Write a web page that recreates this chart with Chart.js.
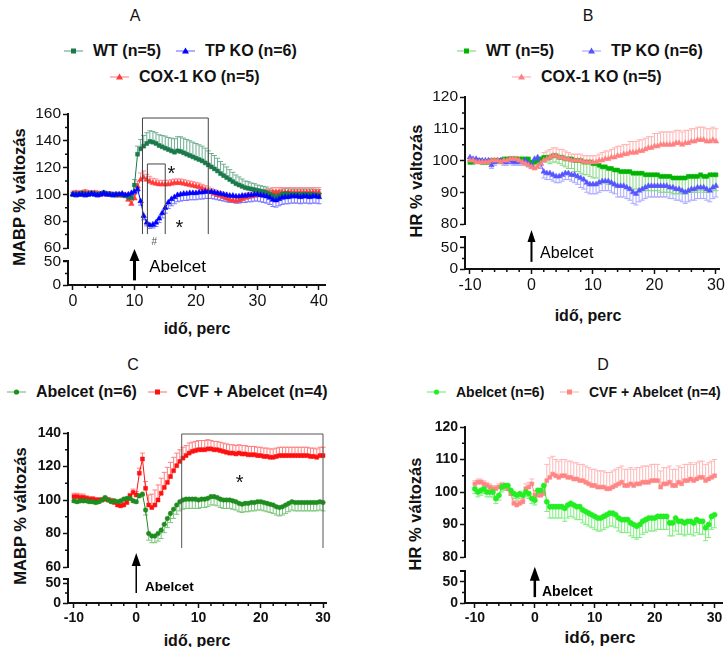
<!DOCTYPE html>
<html lang="hu">
<head>
<meta charset="UTF-8">
<title>MABP és HR változás</title>
<script src="https://cdn.jsdelivr.net/npm/chart.js@4/dist/chart.umd.min.js"></script>
<style>
  body { margin: 0; background: #fff; font-family: 'Liberation Sans', Arial, sans-serif; color: #111; }
  #page { position: relative; width: 727px; height: 647px; overflow: hidden; }
  canvas { position: absolute; }
  .t { position: absolute; white-space: nowrap; transform: translate(-50%, -50%); line-height: 1; }
  .yt { position: absolute; white-space: nowrap; font-weight: bold; font-size: 16.5px; line-height: 1; transform: translate(-50%, -50%) rotate(-90deg); }
  .lg { position: absolute; white-space: nowrap; font-weight: bold; display: flex; align-items: center; transform: translateY(-50%); line-height: 1; }
  .lg svg { margin-right: 10px; }
</style>
</head>
<body>
<div id="page">
  <div class="t" style="left:135px;top:16px;font-size:16px">A</div>
  <div class="t" style="left:588px;top:16px;font-size:16px">B</div>
  <div class="t" style="left:133px;top:365px;font-size:16px">C</div>
  <div class="t" style="left:603px;top:365px;font-size:16px">D</div>

  <div class="yt" style="left:19px;top:197px">MABP % változás</div>
  <div class="yt" style="left:416px;top:181px">HR % változás</div>
  <div class="yt" style="left:20px;top:516px">MABP % változás</div>
  <div class="yt" style="left:415px;top:514px">HR % változás</div>

  <div class="t" style="left:197px;top:329px;font-size:16px;font-weight:bold">idő, perc</div>
  <div class="t" style="left:588px;top:316px;font-size:16px;font-weight:bold">idő, perc</div>
  <div class="t" style="left:197px;top:641px;font-size:16px;font-weight:bold">idő, perc</div>
  <div class="t" style="left:600px;top:637px;font-size:17px;font-weight:bold">idő, perc</div>

  <div id="legends"></div>

  <canvas id="chartA" width="345" height="222" style="left:0;top:95px"></canvas>
  <canvas id="chartB" width="367" height="222" style="left:360px;top:80px"></canvas>
  <canvas id="chartC" width="345" height="222" style="left:0;top:415px"></canvas>
  <canvas id="chartD" width="367" height="222" style="left:360px;top:410px"></canvas>
</div>

<script>
// time points (minutes)
const timeA = [0,0.5,1,1.5,2,2.5,3,3.5,4,4.5,5,5.5,6,6.5,7,7.5,8,8.5,9,9.5,
  10,10.5,11,11.5,12,12.5,13,13.5,14,14.5,15,15.5,16,16.5,17,17.5,18,18.5,19,19.5,
  20,20.5,21,21.5,22,22.5,23,23.5,24,24.5,25,25.5,26,26.5,27,27.5,28,28.5,29,29.5,
  30,30.5,31,31.5,32,32.5,33,33.5,34,34.5,35,35.5,36,36.5,37,37.5,38,38.5,39,39.5,40];
const timeB = [-10,-9.5,-9,-8.5,-8,-7.5,-7,-6.5,-6,-5.5,-5,-4.5,-4,-3.5,-3,-2.5,-2,-1.5,-1,-0.5,
  0,0.5,1,1.5,2,2.5,3,3.5,4,4.5,5,5.5,6,6.5,7,7.5,8,8.5,9,9.5,
  10,10.5,11,11.5,12,12.5,13,13.5,14,14.5,15,15.5,16,16.5,17,17.5,18,18.5,19,19.5,
  20,20.5,21,21.5,22,22.5,23,23.5,24,24.5,25,25.5,26,26.5,27,27.5,28,28.5,29,29.5,30];

// tick labels
const xTicksA = [0, 10, 20, 30, 40];
const xTicksB = [-10, 0, 10, 20, 30];
const yTicksMabpA = [60, 80, 100, 120, 140, 160];
const yTicksMabpC = [60, 80, 100, 120, 140];
const yTicksHr = [80, 90, 100, 110, 120];
const yTicksLow = [0, 50];
const xMinorA = [2,4,6,8,12,14,16,18,22,24,26,28,32,34,36,38];
const xMinorB = [-8,-6,-4,-2,2,4,6,8,12,14,16,18,22,24,26,28];

// series names
const namesAB = ['WT (n=5)', 'TP KO (n=6)', 'COX-1 KO (n=5)'];
const namesCD = ['Abelcet (n=6)', 'CVF + Abelcet (n=4)'];

// A: MABP %
const wtA = [100,100.5,100,101,100.5,100,101,100.5,100,100.5,
  101,100.5,100,100,99.5,100,99.5,99,98,97.5,
  107,130,134,136,138,139.5,139,138,136.5,135.5,
  134.5,133.5,132.5,131.5,132.5,132,131,130,129,128,
  127,126,125,123.5,122,120.5,119,117.5,115.5,114,
  112.5,111,109.5,108,107,106,105,104.5,104,103.5,
  103,102.5,102,101.5,100,99,98.5,99,100,100.5,
  100.5,100,100,100,100,100,100,100,100,99.5,99.5];
const wtAErr = [1.5,1.5,1.5,1.5,1.5,1.5,1.5,1.5,1.5,1.5,
  1.5,1.5,1.5,1.5,1.5,1.5,1.5,1.5,2,2,
  4,6,7,8,8,8,8,8,8,8.5,
  9,9,9.5,10,10.5,11,11,11,11,11,
  11,11,11,11,10.5,10,10,9.5,9,8.5,
  8,7.5,7,6.5,6,5.5,5,5,4.5,4.5,
  4,4,4,4,4,4,4,4,4,4,
  4,4,4,4,4,4,4,4,4,4,4];
const tpA = [100,99.5,100,100,99.5,100,100.5,100,99.5,100,
  101,100,100,99.5,100,100,100.5,99.5,100,101,
  102,104,95,84,79,77,77.5,79,82,86,
  90,94,96.5,98,99.5,100,100.5,100.5,101,101,
  101,101.5,101.5,102,102,102,101.5,101,100.5,100,
  99.5,99,99,98.5,98.5,99,99,99.5,99.5,100,
  100,99.5,99,98.5,97.5,96,95.5,96.5,97.5,98,
  98,98.5,98.5,98.5,98,98.5,98.5,98,98.5,98.5,98];
const tpAErr = [1.5,1.5,1.5,1.5,1.5,1.5,1.5,1.5,1.5,1.5,
  1.5,1.5,1.5,1.5,1.5,1.5,1.5,1.5,1.5,1.5,
  2,2,3,3,2.5,2.5,2.5,3,3,3.5,
  4,4.5,5,5,5,5,5,5,5,5,
  5,5,5,5,5,5,5,5,5,5,
  5,5,5,5,5,5,5,5,5,5,
  5,5,5,5,5,5,5,5,5,5,
  5,5,5,5,5,5,5,5,5,5,5];
const coxA = [100.5,101,100.5,101,101.5,101,100.5,101,100.5,100,
  100.5,100,100,99.5,99.5,99,99.5,99,96,93,
  97,106,111,112.5,111,109.5,108.5,108,107.5,107.5,
  107.5,107.5,108,108.5,108.5,108.5,108,107.5,107,106.5,
  106,105.5,104.5,103.5,102.5,101.5,100.5,99.5,99,98,
  97,96,95.5,95,95.5,96.5,97.5,98,98.5,99,
  99.5,99.5,100,100.5,101,101.5,101.5,101.5,101.5,101.5,
  101.5,101.5,101.5,101.5,101.5,101.5,101.5,101.5,101.5,101.5,101.5];
const coxAErr = [2,2,2,2,2,2,2,2,2,2,
  2,2,2,2,2,2,2,2,3,3,
  3,4,5,5,4,4,3.5,3.5,3,3,
  3,3,3,3,3,3,3,3,3,3,
  3,3,3,3,3,3,3,3,3,3,
  3,3,3,3,3,3,3,3,3,3,
  3.5,3.5,3.5,3.5,3.5,3.5,3.5,3.5,3.5,3.5,
  3.5,3.5,3.5,3.5,3.5,3.5,3.5,3.5,3.5,3.5,3.5];

// B: HR %
const wtB = [99.5,99.5,100,100,99.5,99.5,99.5,100,100,100,
  100,100.5,100.5,100.5,100.5,100.5,100.5,100.5,100.5,100.5,
  99.5,99.5,100,100.5,101,101,101,101.5,101.5,101,
  101,100.5,100.5,100.5,100,100,100,99.5,99.5,99.5,
  99,99,98.5,98,98,97.5,97.5,97,97,96.5,
  96.5,96.5,96.5,96,96,96,96,95.5,95.5,95.5,
  95.5,95.5,95,95,95,95,94.5,94.5,94.5,94.5,
  94.5,95,95,95,95,95.5,95,95,95.5,95.5,95.5];
const wtBErr = [0.7,0.7,0.7,0.7,0.7,0.7,0.7,0.7,0.7,0.7,
  0.7,0.7,0.7,0.7,0.7,0.7,0.7,0.7,0.7,0.7,
  0.7,0.7,1,1,1.5,1.5,2,2,2,2,
  2.5,2.5,3,3,3.5,3.5,4,4,4,4.5,
  4.5,4.5,5,5,5,5,5,5,5,5,
  5,5,5,5,5,5,5,5,5,5,
  5,5,5,5,5,5,5,5,5,5,
  5,5,5,5,5,5,5,5,5,5,5];
const tpB = [101,100.5,100.5,100,100,100,100,98.5,99.5,100,
  100,99.5,99.5,100,99.5,99.5,99.5,99.5,100,99,
  98.5,100.5,101,99,96.5,96,96,95.5,95,95,
  95.5,96,96,95.5,95.5,95,94.5,94,93,92.5,
  92.5,92.5,93,93.5,93.5,93.5,93,92.5,92,92,
  92,91.5,91,90,89.5,90.5,91,91.5,92,92,
  92,92,92,92,92,91.5,91.5,91,91,90.5,
  90,90.5,91,91,91.5,91.5,91.5,91,90.5,91.5,92];
const tpBErr = [1,1,1,1,1,1,1,1,1,1,
  1,1,1,1,1,1,1,1,1,1,
  1,1,1,1.5,2,2,2,2,2,2,
  2,2,2,2,2.5,2.5,3,3,3,3,
  3,3,3,3,3,3,3,3,3.5,3.5,
  3.5,3.5,3.5,3.5,3.5,3.5,3.5,3.5,3.5,3.5,
  3.5,3.5,3.5,3.5,3.5,3.5,3.5,3.5,3.5,3.5,
  3.5,3.5,3.5,3.5,3.5,3.5,3.5,3.5,3.5,3.5,3.5];
const coxB = [100,100,99.5,99.5,99.5,99.5,99.5,100,100,100,
  99.5,100,100,100.5,100.5,100.5,100,99.5,99,98.5,
  98,97.5,98,99,100,100.5,101,101.5,101.5,101,
  101,100.5,100.5,100,100,100,100,99.5,99.5,99.5,
  99.5,99.5,100,100,100.5,100.5,101,101,101.5,101.5,
  102,102,102.5,102.5,102.5,103,103,103.5,104,104,
  104.5,104.5,105,105,105,105,105,105.5,105.5,105,
  105.5,105.5,106,106,106.5,106.5,106.5,106,106,106.5,106];
const coxBErr = [0.7,0.7,0.7,0.7,0.7,0.7,0.7,0.7,0.7,0.7,
  0.7,0.7,0.7,0.7,0.7,0.7,0.7,0.7,0.7,0.7,
  1,1,1.5,2,2.5,2.5,2.5,2.5,2.5,2.5,
  2.5,2.5,2,2,2,2,2,2,2,2,
  2,2,2,2.5,2.5,2.5,2.5,3,3,3,
  3,3,3.5,3.5,3.5,3.5,3.5,3.5,3.5,3.5,
  4,4,4,4,4,4,4,4,4,4,
  4,4,4,4,4,4,4,4,4,4,4];

// C: MABP %
const abelC = [99.5,99,99.5,99.5,99.5,99,99,98.5,99,100,
  101.5,100,99,99.5,99,99.5,100.5,101,101,99.5,
  99,102.5,103.5,94,80,78.5,78.5,80,82,85.5,
  89,92,94.5,97,99,100,100.5,100.5,100.5,100.5,
  100,100.5,100.5,101,102,102,101.5,100.5,100,100,
  100,99.5,99,98,97.5,98,98,98.5,98.5,99,
  99,98.5,98,97.5,97,96,95.5,96,97,98,
  99,98.5,98.5,98.5,98.5,98.5,98.5,98.5,98.5,99,98.5];
const abelCErr = [1,1,1,1,1,1,1,1,1,1,
  1,1,1,1,1,1,1,1,1,1,
  1,1,1,3,4,4,4,4.5,5,5,
  5.5,5.5,5.5,5.5,5.5,5.5,5.5,5.5,5.5,5.5,
  5,5,5,5,5,5,5,5,5,5,
  5,5,5,5,5,5,5,5,5,5,
  5,5,5,5,5,5,5,5,5,5,
  5,5,5,5,5,5,5,5,5,5,5];
const cvfC = [102,102,101.5,101.5,101,100.5,100.5,100,100,100,
  100.5,100,99.5,98.5,97,96.5,97,98.5,102.5,104.5,
  103,116,124.5,107,97,95.5,97,100,104,107.5,
  110.5,114,117.5,120.5,123,125,126.5,128,129,129.5,
  130,130,130,130.5,130.5,130,130,129.5,129,128.5,
  128,128,127.5,128,127.5,127.5,127,127,127,126.5,
  126.5,126,126,125.5,125.5,126,126.5,126.5,126.5,126.5,
  126.5,126.5,126.5,126.5,126.5,126.5,126,126,125.5,126.5,126.5];
const cvfCErr = [2,2,2,2,1.5,1.5,1.5,1.5,1.5,1.5,
  1.5,1.5,1.5,1.5,1.5,1.5,1.5,1.5,1.5,2,
  2,3,3.5,4,6,8,9,9,9,9,
  9,8.5,8,7.5,7,6.5,6,6,5.5,5.5,
  5.5,5.5,5.5,5.5,5,5,5,5,5,5,
  5,5,5,5,5,5,5,5,5,5,
  5,5,5,5,5,5,5,5,5,5,
  5,5,5,5,5,5,5,5,5,5,5];

// D: HR %
const abelD = [101,100,100.5,101,100,100,100,98,99,101.5,
  102,102,100.5,99.5,99,99.5,99,100,99.5,98,
  97.5,100.5,100.5,102,97,95.5,95.5,95.5,95.5,95.5,
  95,96,96.5,96,95.5,95.5,94.5,94,93.5,93,
  92.5,92,92,92.5,93,93.5,93.5,93,92,91.5,
  91.5,91.5,90.5,90,89.5,90,91,91.5,92,92,
  92,92.5,92.5,92.5,92.5,90.5,90.5,92,91,91,
  90.5,91,91,90.5,91.5,91,91,89,90,92.5,93];
const abelDErr = [1.5,1.5,1.5,1.5,1.5,1.5,1.5,1.5,1.5,1.5,
  1.5,1.5,1.5,1.5,1.5,1.5,1.5,1.5,1.5,1.5,
  1.5,1.5,1.5,1.5,3,3.5,3.5,3.5,3.5,3.5,
  4,4,4,4,4,4,4,4,4,4,
  4,4,4,4,4,4,4,4,4,4,
  4,4,4,4,4,4,4,4,4,4,
  4,4,4,4,4,4,4,4,4,4,
  4,4,4,4,4,4,4,4,4,4,4];
const cvfD = [102.5,103,103,102.5,102,101.5,101,101,101.5,102,
  101.5,101,99.5,96.5,96,96.5,97,101,101.5,102.5,
  99,99,99,99.5,103.5,104.5,105.5,105,104.5,105,
  105,104.5,104.5,104,104,103.5,103.5,103,102.5,102,
  102,101.5,101.5,101.5,101,101,101.5,102,102.5,103,
  102,102,102.5,102,102.5,102.5,103,103,103,103.5,
  103.5,103.5,101.5,102.5,102.5,103,102,102,103,102.5,
  103.5,103.5,104,103.5,104,104.5,104.5,103.5,104,104.5,105];
const cvfDErr = [1,1,1,1,1,1,1,1,1,1,
  1,1,1,1,1,1,1,1.5,1.5,1.5,
  1.5,1.5,1.5,1.5,5,6,5.5,5,5,5,
  5,5,5,5,5,5,5,5,5,5,
  5,5,5,5,5,5,5,5,5,5,
  5,5,5,5,5,5,5,5,5,5,
  5,5,5,5,5,5,5,5,5,5,
  5,5,5,5,5,5,5,5,5,5,5];

Chart.defaults.font.family = "'Liberation Sans', Arial, sans-serif";
Chart.defaults.color = '#111';

// error bars, drawn under the lines
const errorBars = {
  id: 'errorBars',
  beforeDatasetsDraw(chart) {
    const { ctx, scales: { x, y } } = chart;
    chart.data.datasets.forEach(ds => {
      ctx.save();
      ctx.strokeStyle = ds.errColor;
      ctx.lineWidth = 1;
      ds.data.forEach((p, i) => {
        const px = x.getPixelForValue(p.x);
        const p0 = y.getPixelForValue(p.y);
        const p1 = y.getPixelForValue(p.y + ds.dir * ds.err[i]);
        ctx.beginPath();
        ctx.moveTo(px, p0); ctx.lineTo(px, p1);
        ctx.moveTo(px - 2.5, p1); ctx.lineTo(px + 2.5, p1);
        ctx.stroke();
      });
      ctx.restore();
    });
  }
};

// minor ticks and the lower piece of the broken y axis
const axisExtras = {
  id: 'axisExtras',
  afterDraw(chart, args, o) {
    const { ctx, chartArea: a, scales: { x, y, y2 } } = chart;
    ctx.save();
    ctx.strokeStyle = '#111';
    ctx.lineWidth = 1.5;
    ctx.beginPath();
    o.xMinor.forEach(v => { const p = x.getPixelForValue(v); ctx.moveTo(p, a.bottom); ctx.lineTo(p, a.bottom + 3); });
    o.yMinor.forEach(v => { const p = y.getPixelForValue(v); ctx.moveTo(a.left, p); ctx.lineTo(a.left - 3, p); });
    [25].forEach(v => { const p = y2.getPixelForValue(v); ctx.moveTo(a.left, p); ctx.lineTo(a.left - 3, p); });
    ctx.stroke();
    const top = y2.getPixelForValue(o.cap);
    ctx.lineWidth = 2;
    ctx.beginPath();
    ctx.moveTo(a.left - 5, top); ctx.lineTo(a.left, top); ctx.lineTo(a.left, a.bottom + 1);
    ctx.stroke();
    ctx.restore();
  }
};

function openBox(ctx, x, y, x0, x1, yTop, yBot) {
  ctx.beginPath();
  ctx.moveTo(x.getPixelForValue(x0), y.getPixelForValue(yBot));
  ctx.lineTo(x.getPixelForValue(x0), y.getPixelForValue(yTop));
  ctx.lineTo(x.getPixelForValue(x1), y.getPixelForValue(yTop));
  ctx.lineTo(x.getPixelForValue(x1), y.getPixelForValue(yBot));
  ctx.stroke();
}

function arrow(ctx, px, tail, tip, w, h, lw) {
  ctx.lineWidth = lw;
  ctx.beginPath(); ctx.moveTo(px, tail); ctx.lineTo(px, tip + h - 1); ctx.stroke();
  ctx.beginPath();
  ctx.moveTo(px, tip); ctx.lineTo(px - w / 2, tip + h); ctx.lineTo(px + w / 2, tip + h);
  ctx.closePath(); ctx.fill();
}

function label(ctx, text, px, py, font, align) {
  ctx.font = font;
  ctx.textAlign = align || 'left';
  ctx.textBaseline = 'middle';
  ctx.fillText(text, px, py);
}

function notesA(chart) {
  const { ctx, scales: { x, y, y2 } } = chart;
  ctx.save();
  ctx.strokeStyle = '#444'; ctx.fillStyle = '#111'; ctx.lineWidth = 1;
  openBox(ctx, x, y, 11.3, 22, 157, 70.4);
  openBox(ctx, x, y, 12.1, 15, 122.7, 70.4);
  label(ctx, '*', x.getPixelForValue(16), y.getPixelForValue(118.2) + 4, "20px 'Liberation Sans'", 'center');
  label(ctx, '*', x.getPixelForValue(17.3), y.getPixelForValue(77.2) + 4, "20px 'Liberation Sans'", 'center');
  ctx.fillStyle = '#555';
  label(ctx, '#', x.getPixelForValue(13.2), y.getPixelForValue(64), "10px 'Liberation Sans'", 'center');
  ctx.fillStyle = '#000'; ctx.strokeStyle = '#000';
  arrow(ctx, x.getPixelForValue(10), y2.getPixelForValue(10), y2.getPixelForValue(78), 10, 12, 3);
  label(ctx, 'Abelcet', x.getPixelForValue(12.4), y2.getPixelForValue(39), "17px 'Liberation Sans'");
  ctx.restore();
}

function notesB(chart) {
  const { ctx, scales: { x, y2 } } = chart;
  ctx.save();
  ctx.fillStyle = '#000'; ctx.strokeStyle = '#000';
  arrow(ctx, x.getPixelForValue(0), y2.getPixelForValue(17), y2.getPixelForValue(93), 8, 12, 2);
  label(ctx, 'Abelcet', x.getPixelForValue(1.4), y2.getPixelForValue(36), "16px 'Liberation Sans'");
  ctx.restore();
}

function notesC(chart) {
  const { ctx, scales: { x, y, y2 } } = chart;
  ctx.save();
  ctx.strokeStyle = '#555'; ctx.fillStyle = '#111'; ctx.lineWidth = 1;
  openBox(ctx, x, y, 7.3, 30, 139.4, 71.3);
  label(ctx, '*', x.getPixelForValue(16.6), y.getPixelForValue(112.5) + 4, "20px 'Liberation Sans'", 'center');
  ctx.fillStyle = '#000'; ctx.strokeStyle = '#000';
  arrow(ctx, x.getPixelForValue(0), y2.getPixelForValue(25), y.getPixelForValue(68.4), 9, 13, 1.5);
  label(ctx, 'Abelcet', x.getPixelForValue(1.4), y2.getPixelForValue(40), "bold 13.5px 'Liberation Sans'");
  ctx.restore();
}

function notesD(chart) {
  const { ctx, scales: { x, y2 } } = chart;
  ctx.save();
  ctx.fillStyle = '#000'; ctx.strokeStyle = '#000';
  arrow(ctx, x.getPixelForValue(0), y2.getPixelForValue(14), y2.getPixelForValue(86), 10, 14, 2.5);
  label(ctx, 'Abelcet', x.getPixelForValue(1.2), y2.getPixelForValue(26), "bold 14px 'Liberation Sans'");
  ctx.restore();
}

function series(name, times, vals, err, dir, color, errColor, shape, r) {
  return {
    label: name,
    data: times.map((t, i) => ({ x: t, y: vals[i] })),
    err: err, dir: dir, errColor: errColor,
    borderColor: color, backgroundColor: color, borderWidth: 1,
    pointStyle: shape, pointRadius: r, pointBackgroundColor: color,
    pointBorderColor: color, pointBorderWidth: 0.5, tension: 0
  };
}

function tickOpts(font) {
  return { font: font, color: '#111', padding: 2, autoSkip: false, maxRotation: 0 };
}
const gridOpts = { drawOnChartArea: false, tickLength: 5, tickWidth: 1.5, tickColor: '#111' };

function makePanel(id, c) {
  const canvas = document.getElementById(id);
  const W = canvas.width, H = canvas.height;
  return new Chart(canvas, {
    type: 'line',
    data: { datasets: c.datasets },
    options: {
      responsive: false, animation: false, devicePixelRatio: 1,
      layout: { padding: { left: c.area.l - 45, top: c.area.t, right: W - c.area.r, bottom: H - c.area.b - 25 } },
      plugins: {
        legend: { display: false }, tooltip: { enabled: false },
        axisExtras: { xMinor: c.xMinor, yMinor: c.yMinor, cap: c.cap }
      },
      scales: {
        x: {
          type: 'linear', min: c.xMin, max: c.xMax,
          afterBuildTicks: s => { s.ticks = c.xTicks.map(v => ({ value: v })); },
          afterFit: s => { s.height = 25; },
          grid: gridOpts, border: { color: '#111', width: 2 },
          ticks: tickOpts(c.xFont)
        },
        y: {
          type: 'linear', position: 'left', stack: 'v', stackWeight: c.h[0], weight: 2,
          min: c.yMin, max: c.yMax,
          afterBuildTicks: s => { s.ticks = c.yTicks.map(v => ({ value: v })); },
          afterFit: s => { s.width = 45; },
          grid: gridOpts, border: { color: '#111', width: 2 },
          ticks: tickOpts(c.yFont)
        },
        y2: {
          type: 'linear', position: 'left', stack: 'v', stackWeight: c.h[1], weight: 1,
          min: 0, max: c.y2Max,
          afterBuildTicks: s => { s.ticks = yTicksLow.map(v => ({ value: v })); },
          afterFit: s => { s.width = 45; },
          grid: gridOpts, border: { display: false },
          ticks: tickOpts(c.yFont)
        }
      }
    },
    plugins: [errorBars, axisExtras, { id: 'notes', afterDraw: c.notes }]
  });
}

const fontReg = { size: 15.5, weight: 'normal' };
const fontBold = { size: 14, weight: 'bold' };

makePanel('chartA', {
  area: { l: 68, t: 19, r: 325, b: 190 }, h: [134, 37],
  xMin: -0.81, xMax: 40.98, xTicks: xTicksA, xMinor: xMinorA,
  yMin: 60, yMax: 160, yTicks: yTicksMabpA, yMinor: [70, 90, 110, 130, 150],
  y2Max: 80, cap: 52, xFont: { size: 16 }, yFont: fontReg, notes: notesA,
  datasets: [
    series(namesAB[1], timeA, tpA, tpAErr, -1, '#0000ff', '#7a7aff', 'triangle', 3.2),
    series(namesAB[0], timeA, wtA, wtAErr, 1, '#1b7a4b', '#6fae91', 'rect', 2.8),
    series(namesAB[2], timeA, coxA, coxAErr, 1, '#ff3a3a', '#ff8c8c', 'triangle', 3.2)
  ]
});

makePanel('chartB', {
  area: { l: 105, t: 17, r: 360, b: 189 }, h: [127, 45],
  xMin: -10.81, xMax: 30.65, xTicks: xTicksB, xMinor: xMinorB,
  yMin: 80, yMax: 120, yTicks: yTicksHr, yMinor: [85, 95, 105, 115],
  y2Max: 107, cap: 76, xFont: { size: 16 }, yFont: fontReg, notes: notesB,
  datasets: [
    series(namesAB[2], timeB, coxB, coxBErr, 1, '#ff8080', '#ffb4b4', 'triangle', 3.2),
    series(namesAB[1], timeB, tpB, tpBErr, -1, '#5555ff', '#a9a9ff', 'triangle', 3.2),
    series(namesAB[0], timeB, wtB, wtBErr, -1, '#00b400', '#85d985', 'rect', 2.8)
  ]
});

makePanel('chartC', {
  area: { l: 68, t: 18, r: 326, b: 188 }, h: [134, 36],
  xMin: -10.96, xMax: 30.48, xTicks: xTicksB, xMinor: xMinorB,
  yMin: 60, yMax: 140, yTicks: yTicksMabpC, yMinor: [70, 90, 110, 130],
  y2Max: 90, cap: 60, xFont: fontBold, yFont: fontBold, notes: notesC,
  datasets: [
    series(namesCD[0], timeB, abelC, abelCErr, -1, '#1e8c1e', '#7cc47c', 'circle', 2.3),
    series(namesCD[1], timeB, cvfC, cvfCErr, 1, '#ff1010', '#ff8080', 'rect', 2.8)
  ]
});

makePanel('chartD', {
  area: { l: 105, t: 17, r: 365, b: 193 }, h: [130, 46],
  xMin: -11.65, xMax: 31.32, xTicks: xTicksB, xMinor: xMinorB,
  yMin: 80, yMax: 120, yTicks: yTicksHr, yMinor: [85, 95, 105, 115],
  y2Max: 109.5, cap: 76, xFont: fontBold, yFont: fontBold, notes: notesD,
  datasets: [
    series(namesCD[0], timeB, abelD, abelDErr, -1, '#22ee22', '#7cee7c', 'circle', 2.6),
    series(namesCD[1], timeB, cvfD, cvfDErr, 1, '#ff8585', '#ffb8b8', 'rect', 2.8)
  ]
});

// HTML legends: short line with the series marker
function marker(shape, color, lineColor) {
  let sym;
  if (shape === 'rect') sym = '<rect x="7" y="2.5" width="5" height="5" fill="' + color + '"/>';
  else if (shape === 'triangle') sym = '<polygon points="9.5,1.5 13,7.5 6,7.5" fill="' + color + '"/>';
  else sym = '<circle cx="9.5" cy="5" r="2.6" fill="' + color + '"/>';
  return '<svg width="19" height="10"><line x1="0" y1="5" x2="19" y2="5" stroke="' + lineColor + '" stroke-width="1.2"/>' + sym + '</svg>';
}
const legendItems = [
  [namesAB[0], 'rect', '#1b7a4b', '#6fae91', 64, 51, 16],
  [namesAB[1], 'triangle', '#0000ff', '#7a7aff', 176, 51, 16],
  [namesAB[2], 'triangle', '#ff3a3a', '#ff8c8c', 110, 77, 16],
  [namesAB[0], 'rect', '#00b400', '#85d985', 457, 51, 16],
  [namesAB[1], 'triangle', '#5555ff', '#a9a9ff', 582, 51, 16],
  [namesAB[2], 'triangle', '#ff8080', '#ffb4b4', 512, 77, 16],
  [namesCD[0], 'circle', '#1e8c1e', '#7cc47c', 7, 392, 16],
  [namesCD[1], 'rect', '#ff1010', '#ff8080', 148, 392, 16],
  [namesCD[0], 'circle', '#22ee22', '#7cee7c', 427, 392, 14],
  [namesCD[1], 'rect', '#ff8585', '#ffb8b8', 560, 392, 14]
];
document.getElementById('legends').innerHTML = legendItems.map(it =>
  '<div class="lg" style="left:' + it[4] + 'px;top:' + it[5] + 'px;font-size:' + it[6] + 'px">' +
  marker(it[1], it[2], it[3]) + '<span>' + it[0] + '</span></div>').join('');
</script>
</body>
</html>
